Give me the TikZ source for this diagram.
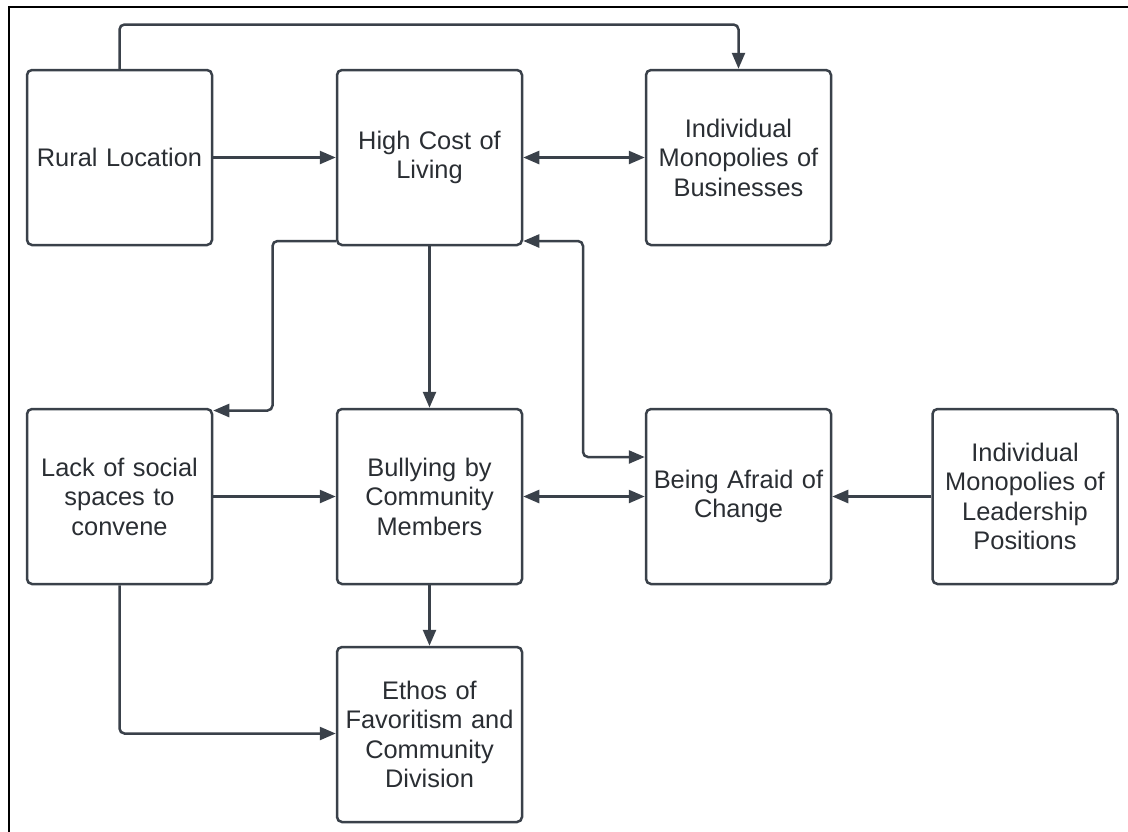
\documentclass[tikz,border=0pt]{standalone}
\usepackage{fontspec}
\setmainfont{Liberation Sans}
\usetikzlibrary{arrows.meta}
\definecolor{ln}{HTML}{3A414A}
\definecolor{tx}{HTML}{2A2E33}
\begin{document}
\begin{tikzpicture}[x=1pt,y=-1pt,
 box/.style={draw=ln, line width=2.5pt, rounded corners=5pt, minimum width=185pt, minimum height=175pt, inner sep=0pt, align=center, text width=182pt, font=\fontsize{25.4}{29.5}\selectfont, text=tx},
 tip/.tip={Triangle[length=16pt,width=13pt]},
 conn/.style={draw=ln, line width=2.5pt, rounded corners=5pt, -tip},
 dconn/.style={draw=ln, line width=2.5pt, rounded corners=5pt, tip-tip}]
\useasboundingbox (0,0) rectangle (1128,831);
\draw[black, line width=2.2pt] (9,835) -- (9,7) -- (1132,7);

\node[box] (rural) at (119.5,157.5) {Rural Location};
\node[box] (cost) at (429.5,157.5) {High Cost of\\Living};
\node[box] (mbus) at (738.5,157.5) {Individual\\Monopolies of\\Businesses};
\node[box] (lack) at (119.5,496.5) {Lack of social\\spaces to\\convene};
\node[box] (bully) at (429.5,496.5) {Bullying by\\Community\\Members};
\node[box] (afraid) at (738.5,496.5) {Being Afraid of\\Change};
\node[box] (lead) at (1025,496.5) {Individual\\Monopolies of\\Leadership\\Positions};
\node[box] (ethos) at (429.5,734.5) {Ethos of\\Favoritism and\\Community\\Division};

\coordinate (top) at (0,24.5);
\coordinate (r1) at (0,241);
\coordinate (r2) at (0,410.5);
\coordinate (r3) at (0,457);
\coordinate (r4) at (0,733.5);
\coordinate (v1) at (272.5,0);
\coordinate (v2) at (583,0);

\draw[conn] (rural.north) -- (rural.north |- top) -- (mbus.north |- top) -- (mbus.north);
\draw[conn] (rural.east) -- (cost.west);
\draw[dconn] (cost.east) -- (mbus.west);
\draw[conn] (cost.west |- r1) -- (v1 |- r1) -- (v1 |- r2) -- (lack.east |- r2);
\draw[conn] (cost.south) -- (bully.north);
\draw[dconn] (cost.east |- r1) -- (v2 |- r1) -- (v2 |- r3) -- (afraid.west |- r3);
\draw[conn] (lack.east) -- (bully.west);
\draw[dconn] (bully.east) -- (afraid.west);
\draw[conn] (lead.west) -- (afraid.east);
\draw[conn] (bully.south) -- (ethos.north);
\draw[conn] (lack.south) -- (lack.south |- r4) -- (ethos.west |- r4);
\end{tikzpicture}
\end{document}
